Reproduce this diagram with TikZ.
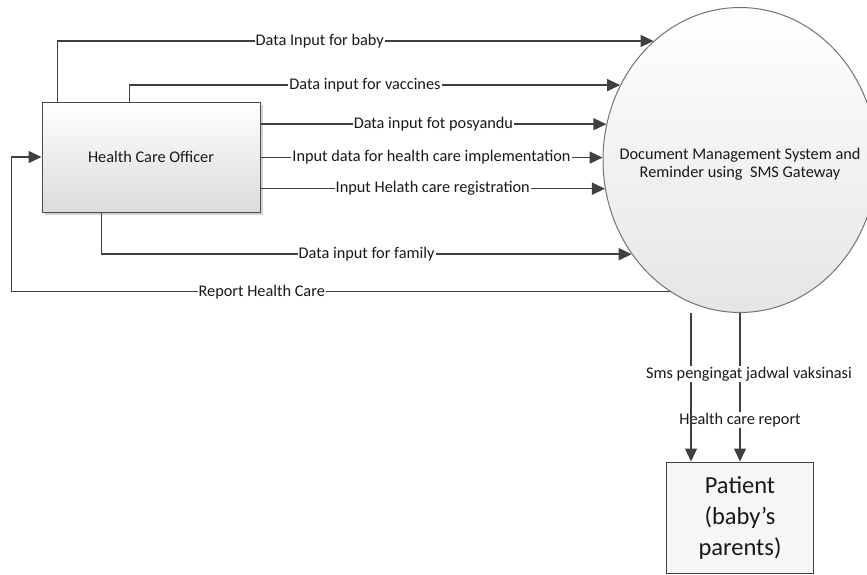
\documentclass[tikz,border=0pt]{standalone}
\usepackage{fontspec}
\setmainfont{Carlito}
\usetikzlibrary{shapes.geometric, arrows.meta, shadows}

\begin{document}
\begin{tikzpicture}[x=1pt, y=-1pt,
  flow/.style={draw=black!75, line width=1.5pt, -{Triangle[length=13pt,width=12pt]}},
  lbl/.style={fill=white, inner sep=1pt, text=black!90, font=\fontsize{16.3}{18}\selectfont}]
  \useasboundingbox (0,0) rectangle (867,574);

  \node (hco) [draw=black!70, line width=1pt, top color=white, bottom color=black!14,
    drop shadow={shadow xshift=2.5pt, shadow yshift=-2.5pt, opacity=0.35},
    minimum width=218pt, minimum height=110pt, text=black!90,
    font=\fontsize{16.3}{18}\selectfont] at (151,157) {Health Care Officer};
  \node (dms) [ellipse, draw=black!55, line width=1pt, top color=white, bottom color=black!10,
    minimum width=274pt, minimum height=305pt,
    label={[align=center, text=black!90, font=\fontsize{16.3}{18}\selectfont, yshift=-4pt]center:Document Management System and\\Reminder using~ SMS Gateway}] at (740,160) {};
  \node (pat) [draw=black!75, line width=1pt, fill=black!3, minimum width=147pt, minimum height=111pt,
    align=center, text=black!90, font=\fontsize{24.5}{31}\selectfont] at (740,517.5) {Patient\\(baby’s\\parents)};

  \draw[flow] ([xshift=16pt]hco.north west) |- node[lbl, pos=0.72] {Data Input for baby} (dms.126);
  \draw[flow] ([xshift=88pt]hco.north west) |- node[lbl, pos=0.74] {Data input for vaccines} (dms.148);
  \draw[flow] (hco.east |- dms.165) -- node[lbl] {Data input fot posyandu} (dms.165);
  \draw[flow] (hco.east |- dms.179) -- node[lbl] {Input data for health care implementation} (dms.179);
  \draw[flow] (hco.east |- dms.192) -- node[lbl] {Input Helath care registration} (dms.192);
  \draw[flow] ([xshift=60pt]hco.south west) |- node[lbl, pos=0.75] {Data input for family} (dms.221);
  \draw[flow] (dms.242) -| node[lbl, pos=0.31] {Report Health Care} ([xshift=-30pt]hco.west) -- (hco.west);

  \coordinate (smsout) at ([xshift=-49pt]dms.south);
  \draw[flow] (dms.south) -- node[lbl, pos=0.72] {Health care report} (dms.south |- pat.north);
  \draw[flow] (smsout) -- node[lbl, pos=0.41, xshift=58pt] {Sms pengingat jadwal vaksinasi} (smsout |- pat.north);

\end{tikzpicture}
\end{document}
